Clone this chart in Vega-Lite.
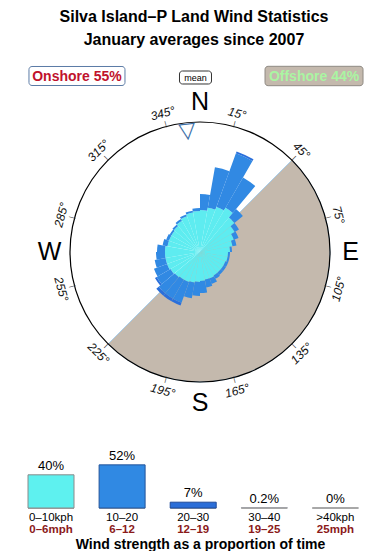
{
  "$schema": "https://vega.github.io/schema/vega-lite/v6.json",
  "background": "white",
  "padding": {"left": 10, "right": 0, "top": 9, "bottom": 0},
  "config": {"view": {"stroke": null}, "font": "Liberation Sans"},
  "title": {
    "text": ["Silva Island–P Land Wind Statistics", "January averages since 2007"],
    "font": "Liberation Sans", "fontSize": 16, "fontWeight": "bold", "color": "#000000",
    "lineHeight": 23, "anchor": "middle", "dx": -6, "offset": 16
  },
  "bounds": "flush",
  "spacing": 10,
  "resolve": {"scale": {"color": "independent", "stroke": "independent"}},
  "vconcat": [
    {
      "width": 380, "height": 20,
      "data": {"values": [
        {"key": "onshore", "label": "Onshore 55%"},
        {"key": "mean", "label": "mean"},
        {"key": "offshore", "label": "Offshore 44%"}
      ]},
      "encoding": {
        "x": {"field": "key", "type": "nominal", "sort": ["onshore", "mean", "offshore"],
              "scale": {"type": "point", "padding": 0.603, "align": 0.4685}, "axis": null}
      },
      "layer": [
        {"transform": [{"filter": "datum.key == 'onshore'"}],
         "mark": {"type": "point", "filled": true, "fill": "white", "stroke": "#5b7ba6", "strokeWidth": 1, "opacity": 1, "size": 9216,
                  "shape": "M-0.9375,-0.198H0.9375A0.0625,0.0625,0,0,1,1,-0.1355V0.1355A0.0625,0.0625,0,0,1,0.9375,0.198H-0.9375A0.0625,0.0625,0,0,1,-1,0.1355V-0.1355A0.0625,0.0625,0,0,1,-0.9375,-0.198Z"}},
        {"transform": [{"filter": "datum.key == 'offshore'"}],
         "mark": {"type": "point", "filled": true, "fill": "#c4b9ad", "stroke": "#8f8a84", "strokeWidth": 1, "opacity": 1, "size": 9604,
                  "shape": "M-0.9375,-0.198H0.9375A0.0625,0.0625,0,0,1,1,-0.1355V0.1355A0.0625,0.0625,0,0,1,0.9375,0.198H-0.9375A0.0625,0.0625,0,0,1,-1,0.1355V-0.1355A0.0625,0.0625,0,0,1,-0.9375,-0.198Z"}},
        {"transform": [{"filter": "datum.key == 'mean'"}],
         "mark": {"type": "point", "filled": true, "fill": "white", "stroke": "#333333", "strokeWidth": 1, "opacity": 1, "size": 1024, "yOffset": 1.5,
                  "shape": "M-0.8125,-0.406H0.8125A0.1875,0.1875,0,0,1,1,-0.219V0.219A0.1875,0.1875,0,0,1,0.8125,0.406H-0.8125A0.1875,0.1875,0,0,1,-1,0.219V-0.219A0.1875,0.1875,0,0,1,-0.8125,-0.406Z"}},
        {"transform": [{"filter": "datum.key != 'mean'"}],
         "mark": {"type": "text", "fontSize": 14, "fontWeight": "bold", "baseline": "middle", "align": "center", "dy": 1},
         "encoding": {
           "text": {"field": "label"},
           "color": {"field": "key", "type": "nominal", "scale": {"domain": ["onshore", "offshore"], "range": ["#c0122c", "#aaf5a2"]}, "legend": null}
         }},
        {"transform": [{"filter": "datum.key == 'mean'"}],
         "mark": {"type": "text", "fontSize": 9, "color": "#000000", "baseline": "middle", "align": "center", "dy": 1.5},
         "encoding": {"text": {"field": "label"}}}
      ]
    },
    {
      "width": 380, "height": 312,
      "resolve": {"scale": {"angle": "independent"}},
      "layer": [
        {
          "data": {"values": [{"sector": "offshore", "from": 45, "to": 225}]},
          "mark": {"type": "arc", "fill": "#c4b9ad", "stroke": "#a9cde9", "strokeWidth": 1},
          "encoding": {
            "theta": {"field": "from", "type": "quantitative", "stack": null, "scale": {"domain": [0, 360], "range": [0, 6.283185307179586]}},
            "theta2": {"field": "to"},
            "radius": {"datum": 13, "type": "quantitative", "scale": {"type": "linear", "domain": [0, 13], "range": [0, 130], "zero": true}},
            "radius2": {"datum": 0}
          }
        },
        {
          "data": {"values": [
            {"from": 0, "to": 10, "kph0_10": 4.2, "kph10_20": 1.6, "kph20_30": 0},
            {"from": 10, "to": 20, "kph0_10": 4.5, "kph10_20": 4.1, "kph20_30": 0},
            {"from": 20, "to": 30, "kph0_10": 4.8, "kph10_20": 5.7, "kph20_30": 0.2},
            {"from": 30, "to": 40, "kph0_10": 5.1, "kph10_20": 3.5, "kph20_30": 0},
            {"from": 40, "to": 50, "kph0_10": 4.5, "kph10_20": 1.1, "kph20_30": 0},
            {"from": 50, "to": 60, "kph0_10": 4.0, "kph10_20": 0.5, "kph20_30": 0},
            {"from": 60, "to": 70, "kph0_10": 3.6, "kph10_20": 0.5, "kph20_30": 0},
            {"from": 70, "to": 80, "kph0_10": 3.3, "kph10_20": 0.4, "kph20_30": 0},
            {"from": 80, "to": 90, "kph0_10": 3.0, "kph10_20": 0.2, "kph20_30": 0},
            {"from": 90, "to": 100, "kph0_10": 2.8, "kph10_20": 0.2, "kph20_30": 0},
            {"from": 100, "to": 110, "kph0_10": 2.8, "kph10_20": 0.2, "kph20_30": 0},
            {"from": 110, "to": 120, "kph0_10": 2.7, "kph10_20": 0.3, "kph20_30": 0},
            {"from": 120, "to": 130, "kph0_10": 2.7, "kph10_20": 0.3, "kph20_30": 0},
            {"from": 130, "to": 140, "kph0_10": 2.7, "kph10_20": 0.3, "kph20_30": 0},
            {"from": 140, "to": 150, "kph0_10": 2.7, "kph10_20": 0.4, "kph20_30": 0},
            {"from": 150, "to": 160, "kph0_10": 2.8, "kph10_20": 0.6, "kph20_30": 0},
            {"from": 160, "to": 170, "kph0_10": 2.8, "kph10_20": 0.8, "kph20_30": 0},
            {"from": 170, "to": 180, "kph0_10": 2.9, "kph10_20": 1.2, "kph20_30": 0},
            {"from": 180, "to": 190, "kph0_10": 3.0, "kph10_20": 1.4, "kph20_30": 0},
            {"from": 190, "to": 200, "kph0_10": 3.1, "kph10_20": 1.6, "kph20_30": 0},
            {"from": 200, "to": 210, "kph0_10": 3.2, "kph10_20": 2.2, "kph20_30": 0.3},
            {"from": 210, "to": 220, "kph0_10": 3.2, "kph10_20": 2.2, "kph20_30": 0.3},
            {"from": 220, "to": 230, "kph0_10": 3.3, "kph10_20": 2.1, "kph20_30": 0.3},
            {"from": 230, "to": 240, "kph0_10": 3.4, "kph10_20": 1.6, "kph20_30": 0.2},
            {"from": 240, "to": 250, "kph0_10": 3.5, "kph10_20": 1.4, "kph20_30": 0},
            {"from": 250, "to": 260, "kph0_10": 3.5, "kph10_20": 1.1, "kph20_30": 0},
            {"from": 260, "to": 270, "kph0_10": 3.5, "kph10_20": 0.9, "kph20_30": 0},
            {"from": 270, "to": 280, "kph0_10": 3.5, "kph10_20": 0.8, "kph20_30": 0},
            {"from": 280, "to": 290, "kph0_10": 3.3, "kph10_20": 0.5, "kph20_30": 0},
            {"from": 290, "to": 300, "kph0_10": 3.3, "kph10_20": 0.3, "kph20_30": 0},
            {"from": 300, "to": 310, "kph0_10": 3.3, "kph10_20": 0.2, "kph20_30": 0},
            {"from": 310, "to": 320, "kph0_10": 3.4, "kph10_20": 0.2, "kph20_30": 0},
            {"from": 320, "to": 330, "kph0_10": 3.6, "kph10_20": 0.2, "kph20_30": 0},
            {"from": 330, "to": 340, "kph0_10": 3.8, "kph10_20": 0.2, "kph20_30": 0},
            {"from": 340, "to": 350, "kph0_10": 4.0, "kph10_20": 0.2, "kph20_30": 0},
            {"from": 350, "to": 360, "kph0_10": 4.1, "kph10_20": 0.3, "kph20_30": 0}
          ]},
          "transform": [
            {"fold": ["kph0_10", "kph10_20", "kph20_30"], "as": ["speed", "freq"]},
            {"stack": "freq", "groupby": ["from"], "sort": [{"field": "speed", "order": "ascending"}], "as": ["r0", "r1"]}
          ],
          "mark": {"type": "arc"},
          "encoding": {
            "theta": {"field": "from", "type": "quantitative", "stack": null, "scale": {"domain": [0, 360], "range": [0, 6.283185307179586]}},
            "theta2": {"field": "to"},
            "radius": {"field": "r1", "type": "quantitative", "stack": null, "scale": {"type": "linear", "domain": [0, 13], "range": [0, 130], "zero": true}},
            "radius2": {"field": "r0"},
            "color": {"field": "speed", "type": "nominal", "scale": {"domain": ["kph0_10", "kph10_20", "kph20_30"], "range": ["#5eecf0", "#3189e3", "#2a6fdb"]}, "legend": null}
          }
        },
        {
          "data": {"values": [{"ring": "outline"}]},
          "mark": {"type": "arc", "fill": "#000000"},
          "encoding": {
            "theta": {"datum": 0, "type": "quantitative", "stack": null, "scale": {"domain": [0, 360], "range": [0, 6.283185307179586]}},
            "theta2": {"datum": 360},
            "radius": {"datum": 13.06, "type": "quantitative", "scale": {"type": "linear", "domain": [0, 13], "range": [0, 130], "zero": true}},
            "radius2": {"datum": 12.94}
          }
        },
        {
          "data": {"name": "degs", "values": [
            {"deg": 15, "label": "15°"}, {"deg": 45, "label": "45°"}, {"deg": 75, "label": "75°"},
            {"deg": 105, "label": "105°"}, {"deg": 135, "label": "135°"}, {"deg": 165, "label": "165°"},
            {"deg": 195, "label": "195°"}, {"deg": 225, "label": "225°"}, {"deg": 255, "label": "255°"},
            {"deg": 285, "label": "285°"}, {"deg": 315, "label": "315°"}, {"deg": 345, "label": "345°"}
          ]},
          "mark": {"type": "text", "text": "|", "fontSize": 7, "color": "#333333", "align": "center", "baseline": "middle"},
          "encoding": {
            "theta": {"field": "deg", "type": "quantitative", "scale": {"domain": [0, 360], "range": [0, 6.283185307179586]}},
            "radius": {"datum": 13.25, "type": "quantitative", "scale": {"type": "linear", "domain": [0, 13], "range": [0, 130], "zero": true}},
            "angle": {"field": "deg", "type": "quantitative", "scale": {"domain": [0, 360], "range": [0, 360]}, "legend": null}
          }
        },
        {
          "data": {"name": "degs"},
          "mark": {"type": "text", "fontSize": 12, "fontStyle": "italic", "color": "#111111", "align": "center", "baseline": "middle"},
          "encoding": {
            "text": {"field": "label"},
            "theta": {"field": "deg", "type": "quantitative", "scale": {"domain": [0, 360], "range": [0, 6.283185307179586]}},
            "radius": {"datum": 14.35, "type": "quantitative", "scale": {"type": "linear", "domain": [0, 13], "range": [0, 130], "zero": true}},
            "angle": {"field": "deg", "type": "quantitative", "scale": {"domain": [0, 90, 90.001, 270, 270.001, 360], "range": [0, 90, -90, 90, -90, 0]}, "legend": null}
          }
        },
        {
          "data": {"values": [{"deg": 0, "label": "N"}, {"deg": 90, "label": "E"}, {"deg": 180, "label": "S"}, {"deg": 270, "label": "W"}]},
          "mark": {"type": "text", "fontSize": 25, "color": "#000000", "align": "center", "baseline": "middle"},
          "encoding": {
            "text": {"field": "label"},
            "theta": {"field": "deg", "type": "quantitative", "scale": {"domain": [0, 360], "range": [0, 6.283185307179586]}},
            "radius": {"datum": 15.05, "type": "quantitative", "scale": {"type": "linear", "domain": [0, 13], "range": [0, 130], "zero": true}}
          }
        },
        {
          "data": {"values": [{"mean_dir": 354}]},
          "mark": {"type": "text", "text": "▽", "font": "DejaVu Sans", "fontSize": 22, "color": "#3d6fa8", "align": "center", "baseline": "middle", "angle": -6},
          "encoding": {
            "theta": {"field": "mean_dir", "type": "quantitative", "scale": {"domain": [0, 360], "range": [0, 6.283185307179586]}},
            "radius": {"datum": 12.2, "type": "quantitative", "scale": {"type": "linear", "domain": [0, 13], "range": [0, 130], "zero": true}}
          }
        }
      ]
    },
    {
      "width": 380, "height": 90,
      "data": {"values": [
        {"cls": "0-10", "kph": "0–10kph", "mph": "0–6mph", "pct": 40, "label": "40%"},
        {"cls": "10-20", "kph": "10–20", "mph": "6–12", "pct": 52, "label": "52%"},
        {"cls": "20-30", "kph": "20–30", "mph": "12–19", "pct": 7, "label": "7%"},
        {"cls": "30-40", "kph": "30–40", "mph": "19–25", "pct": 0.2, "label": "0.2%"},
        {"cls": "40+", "kph": ">40kph", "mph": "25mph", "pct": 0, "label": "0%"}
      ]},
      "encoding": {
        "x": {"field": "cls", "type": "nominal", "sort": null,
              "scale": {"paddingInner": 0.353, "paddingOuter": 0.349, "align": 0.363},
              "axis": {"labels": false, "ticks": false, "domain": false, "title": "Wind strength as a proportion of time",
                       "titleFont": "Liberation Sans", "titleFontSize": 14, "titleFontWeight": "bold", "titleColor": "#000000", "titlePadding": 29}}
      },
      "layer": [
        {"mark": {"type": "tick", "color": "#a8a8a8", "thickness": 2, "size": 46, "opacity": 1},
         "encoding": {"y": {"datum": 0, "type": "quantitative", "scale": {"domain": [0, 108.5], "nice": false}, "axis": null}}},
        {"mark": {"type": "bar", "strokeWidth": 1},
         "encoding": {
           "y": {"field": "pct", "type": "quantitative", "scale": {"domain": [0, 108.5], "nice": false}, "axis": null},
           "color": {"field": "cls", "type": "nominal", "scale": {"domain": ["0-10", "10-20", "20-30", "30-40", "40+"], "range": ["#5ef1ef", "#3089e3", "#2b6ed8", "#1e3ab0", "#6a1fa0"]}, "legend": null},
           "stroke": {"field": "cls", "type": "nominal", "scale": {"domain": ["0-10", "10-20", "20-30", "30-40", "40+"], "range": ["#8a8a8a", "#24559a", "#1d4a9a", "#a8a8a8", "#a8a8a8"]}, "legend": null}
         }},
        {"mark": {"type": "text", "fontSize": 13, "color": "#000000", "baseline": "alphabetic", "align": "center", "dy": -5},
         "encoding": {"y": {"field": "pct", "type": "quantitative"}, "text": {"field": "label"}}},
        {"mark": {"type": "text", "fontSize": 11.5, "color": "#000000", "baseline": "middle", "align": "center", "dy": 9.5},
         "encoding": {"y": {"datum": 0, "type": "quantitative"}, "text": {"field": "kph"}}},
        {"mark": {"type": "text", "fontSize": 11.5, "fontWeight": "bold", "color": "#8b1a1a", "baseline": "middle", "align": "center", "dy": 21.5},
         "encoding": {"y": {"datum": 0, "type": "quantitative"}, "text": {"field": "mph"}}}
      ]
    }
  ]
}
